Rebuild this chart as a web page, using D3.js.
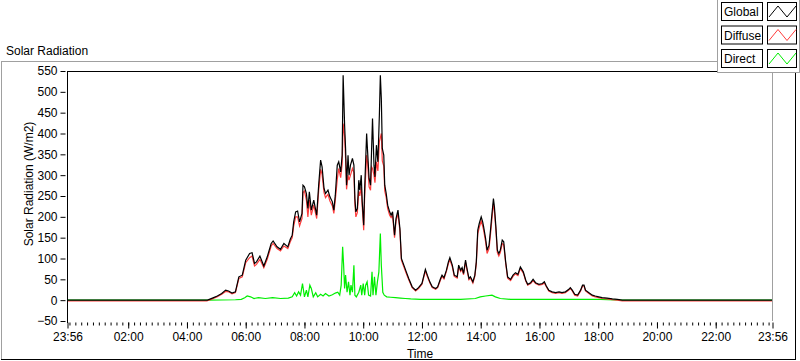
<!DOCTYPE html>
<html><head><meta charset="utf-8">
<script src="https://cdn.jsdelivr.net/npm/d3@7"></script>
<style>
html,body{margin:0;padding:0;background:#fff;}
svg{display:block;font-family:"Liberation Sans",Arial,sans-serif;}
</style></head><body>
<svg id="c" width="800" height="361"></svg>
<script>
// ---------- DATA ----------
const xTickTimes  = ["23:56","02:00","04:00","06:00","08:00","10:00","12:00","14:00","16:00","18:00","20:00","22:00","23:56"];
const yTickValues = [-50,0,50,100,150,200,250,300,350,400,450,500,550];
const seriesNames = ["Global","Diffuse","Direct"];
const seriesColors = ["#000000","#ff3c3c","#00ee00"];

const gdTimes = ["23:56","04:40","04:42","04:52","05:02","05:11","05:19","05:25","05:32","05:39","05:46","05:53","06:00","06:08","06:13","06:18","06:22","06:29","06:37","06:44","06:52","06:56","07:04","07:11","07:18","07:26","07:31","07:35","07:38","07:42","07:46","07:50","07:55","07:57","08:00","08:04","08:07","08:10","08:14","08:19","08:25","08:29","08:33","08:36","08:40","08:43","08:48","08:52","08:57","09:00","09:03","09:07","09:10","09:14","09:17","09:19","09:22","09:24","09:26","09:29","09:31","09:34","09:38","09:41","09:43","09:45","09:48","09:51","09:53","09:56","09:58","10:01","10:03","10:07","10:09","10:12","10:15","10:17","10:19","10:22","10:24","10:27","10:30","10:33","10:35","10:37","10:39","10:42","10:44","10:47","10:50","10:54","10:57","11:00","11:04","11:07","11:11","11:15","11:18","11:23","11:28","11:33","11:40","11:47","11:53","12:00","12:07","12:11","12:16","12:21","12:28","12:32","12:38","12:41","12:45","12:50","12:54","12:57","13:02","13:06","13:12","13:15","13:19","13:22","13:25","13:29","13:32","13:36","13:39","13:44","13:48","13:51","13:54","13:57","14:01","14:04","14:06","14:10","14:13","14:17","14:20","14:23","14:26","14:28","14:31","14:34","14:37","14:40","14:44","14:47","14:51","14:55","15:01","15:06","15:11","15:16","15:21","15:27","15:32","15:36","15:42","15:47","15:52","15:59","16:06","16:10","16:14","16:19","16:26","16:33","16:40","16:46","16:53","17:00","17:03","17:07","17:12","17:18","17:24","17:28","17:31","17:34","17:41","17:48","17:54","18:01","18:08","18:18","18:29","18:39","18:49","23:56"];
const globalValues = [0,0,0,5,10,16,24,22,17,20,56,60,96,112,114,88,92,106,82,104,136,142,128,122,136,128,146,156,188,212,214,188,208,276,272,256,220,260,216,240,204,276,336,320,268,256,264,248,236,216,252,324,332,308,348,540,420,364,276,348,300,324,340,324,244,212,220,288,264,300,236,180,268,400,356,292,276,356,436,324,296,372,332,444,540,484,364,348,276,256,228,212,204,212,156,196,216,172,100,84,68,52,32,24,30,40,74,60,44,32,28,32,52,60,54,72,92,102,84,60,56,84,72,78,64,96,76,52,56,44,60,92,168,184,200,188,176,148,120,132,168,208,244,224,176,120,112,120,144,140,92,56,50,60,66,62,80,68,48,38,42,50,42,38,40,44,34,24,20,18,20,18,20,26,30,24,14,12,24,36,36,24,18,12,10,8,6,5,3,2,0,0];
const diffuseValues = [-2,-2,-1,3,8,14,21,20,15,18,52,56,90,102,106,82,86,98,78,98,130,136,124,118,130,124,140,150,178,200,200,178,196,258,262,240,200,240,204,228,196,262,314,302,258,246,254,238,226,208,240,290,316,294,326,424,392,340,266,300,288,300,316,306,230,200,210,262,250,272,224,168,250,348,330,272,264,320,316,300,282,332,310,380,390,400,334,322,262,246,220,204,198,204,150,190,208,166,96,80,64,49,30,22,28,38,70,57,42,30,26,30,49,57,51,69,88,97,80,57,53,80,69,74,61,91,72,49,53,41,57,87,160,174,190,178,168,140,112,124,158,196,232,214,168,114,106,114,136,133,88,53,47,57,63,59,76,65,46,36,40,47,40,36,38,41,32,22,18,16,18,16,18,24,28,22,12,10,22,34,34,22,16,10,8,6,4,3,1,0,-2,-2];

const directTimes = ["23:56","04:42","05:39","05:51","05:58","06:03","06:10","06:17","06:26","06:40","06:55","07:11","07:27","07:35","07:40","07:44","07:48","07:52","07:56","08:00","08:04","08:07","08:11","08:14","08:18","08:23","08:27","08:33","08:38","08:43","08:50","08:57","09:03","09:08","09:12","09:15","09:18","09:20","09:22","09:24","09:27","09:30","09:33","09:35","09:38","09:41","09:43","09:46","09:51","09:55","09:57","10:00","10:03","10:05","10:08","10:11","10:15","10:18","10:20","10:23","10:26","10:29","10:32","10:35","10:37","10:40","10:43","10:48","10:56","11:06","11:16","11:26","11:37","11:57","12:38","13:19","13:49","13:59","14:10","14:23","14:30","14:40","15:01","16:43","18:05","18:49","23:56"];
const directValues = [0,0,1,2,6,10,8,4,6,4,6,4,5,8,18,10,20,12,40,8,24,8,36,28,8,18,8,14,10,16,10,13,17,19,12,36,128,84,28,60,19,44,12,36,19,84,12,8,19,36,12,40,12,36,44,12,10,68,12,56,12,44,68,160,84,19,12,8,7,6,5,4,3,2,2,2,4,8,10,12,8,4,2,2,2,0,0];

// ---------- HELPERS ----------
function toMin(s,i,arr){
  const [h,m] = s.split(":").map(Number);
  let v = h*60+m;
  if (i===0 && v>720) v -= 1440;   // starts on previous day
  return v;
}
const xTickMin = xTickTimes.map(toMin);

// ---------- LAYOUT ----------
const svg = d3.select("#c");
const P = {l:67.5, r:772.5, t:71, b:321};

const x = d3.scaleLinear().domain([xTickMin[0], xTickMin[xTickMin.length-1]]).range([P.l, P.r]);
const y = d3.scaleLinear().domain([-50,550]).range([P.b, P.t]);

// outer panel frame
svg.append("line").attr("x1",1.5).attr("x2",1.5).attr("y1",61.5).attr("y2",359.5).attr("stroke","#a0a0a0");
svg.append("line").attr("x1",1).attr("x2",718).attr("y1",61.5).attr("y2",61.5).attr("stroke","#a0a0a0");
svg.append("line").attr("x1",795.5).attr("x2",795.5).attr("y1",72).attr("y2",360).attr("stroke","#000");
svg.append("line").attr("x1",1).attr("x2",796).attr("y1",359.5).attr("y2",359.5).attr("stroke","#000");

// title
svg.append("text").attr("x",6).attr("y",55).attr("font-size",12).attr("fill","#000").text("Solar Radiation");

// plot area
svg.append("rect").attr("x",P.l).attr("y",P.t).attr("width",P.r-P.l).attr("height",P.b-P.t).attr("fill","#fff");
svg.append("line").attr("x1",P.r).attr("x2",P.r).attr("y1",P.t).attr("y2",P.b).attr("stroke","#a0a0a0");
svg.append("line").attr("x1",P.l).attr("x2",P.r).attr("y1",P.t+0.5).attr("y2",P.t+0.5).attr("stroke","#000");
svg.append("line").attr("x1",P.l).attr("x2",P.l).attr("y1",P.t).attr("y2",P.b+2).attr("stroke","#000");

// y axis
const yAxis = d3.axisLeft(y).tickValues(yTickValues).tickSize(5).tickPadding(3);
const gy = svg.append("g").attr("transform",`translate(${P.l-2},0)`).call(yAxis);
gy.select(".domain").remove();
gy.selectAll("text").attr("font-size",12).attr("font-family","Liberation Sans, Arial, sans-serif").attr("fill","#000");
gy.selectAll("line").attr("stroke","#000");

// x axis minor ticks
const minorTicks = d3.range(0, 1436, 12);
const xMinor = d3.axisBottom(x).tickValues(minorTicks).tickSize(3).tickFormat("");
const gxm = svg.append("g").attr("transform",`translate(0,${P.b+1.5})`).call(xMinor);
gxm.select(".domain").remove();
gxm.selectAll("line").attr("stroke","#000");
// major
const xAxis = d3.axisBottom(x).tickValues(xTickMin).tickSize(6).tickPadding(4)
  .tickFormat((d,i)=>xTickTimes[i]);
const gx = svg.append("g").attr("transform",`translate(0,${P.b+1.5})`).call(xAxis);
gx.select(".domain").remove();
gx.selectAll("line").attr("stroke","#000");
gx.selectAll("text").attr("font-size",12).attr("font-family","Liberation Sans, Arial, sans-serif").attr("fill","#000");

// axis titles
svg.append("text").attr("x",(P.l+P.r)/2).attr("y",358).attr("text-anchor","middle").attr("font-size",12).text("Time");
svg.append("text").attr("transform","translate(33,184) rotate(-90)").attr("text-anchor","middle").attr("font-size",12).text("Solar Radiation (W/m2)");

// ---------- SERIES ----------
const line = d3.line().x(d=>x(d[0])).y(d=>y(d[1]));
const clip = svg.append("clipPath").attr("id","pc").append("rect")
  .attr("x",P.l+0.5).attr("y",P.t+1).attr("width",P.r-P.l-1).attr("height",P.b-P.t-1);
const gPlot = svg.append("g").attr("clip-path","url(#pc)");
const gdMin = gdTimes.map(toMin);
const dirMin = directTimes.map(toMin);
const series = [
  {name:"Direct", color:seriesColors[2], pts: dirMin.map((t,i)=>[t,directValues[i]])},
  {name:"Diffuse", color:seriesColors[1], pts: gdMin.map((t,i)=>[t,diffuseValues[i]])},
  {name:"Global", color:seriesColors[0], pts: gdMin.map((t,i)=>[t,globalValues[i]])},
];
series.forEach(s=>{
  gPlot.append("path").attr("d",line(s.pts)).attr("fill","none").attr("stroke",s.color).attr("stroke-width",1.2);
});

// ---------- LEGEND ----------
const lg = svg.append("g");
lg.append("rect").attr("x",717.5).attr("y",-1).attr("width",82).attr("height",73.5).attr("fill","#fff").attr("stroke","#a0a0a0");
seriesNames.forEach((n,i)=>{
  const ry = 2 + i*23.5;
  lg.append("rect").attr("x",721.5).attr("y",ry+0.5).attr("width",41).attr("height",18).attr("fill","#fff").attr("stroke","#000");
  lg.append("text").attr("x",724).attr("y",ry+14).attr("font-size",12).attr("fill","#000").text(n);
  lg.append("rect").attr("x",767.5).attr("y",ry+0.5).attr("width",29).attr("height",18).attr("fill","#fff").attr("stroke","#000");
  lg.append("path").attr("d",`M769,${ry+15} L778,${ry+4} L787,${ry+15} L796,${ry+4}`)
    .attr("fill","none").attr("stroke",seriesColors[i]).attr("stroke-width",1);
});
</script>
</body></html>
